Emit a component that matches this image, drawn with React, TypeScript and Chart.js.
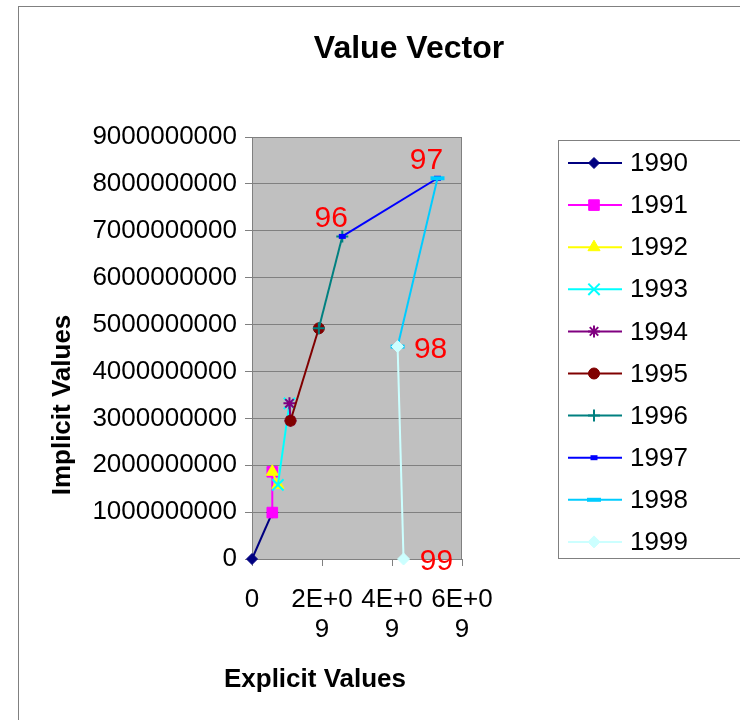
import React, { useEffect, useRef } from 'react';
import { Chart, registerables } from 'chart.js';
import { drawPoint } from 'chart.js/helpers';

Chart.register(...registerables);

// ---- data ----
const years = ['1990', '1991', '1992', '1993', '1994', '1995', '1996', '1997', '1998', '1999'];
// chained points: series k runs from point k to point k+1
const explicitValues = [0, 0.58e9, 0.58e9, 0.74e9, 1.07e9, 1.10e9, 1.91e9, 2.58e9, 5.30e9, 4.16e9, 4.33e9];
const implicitValues = [0, 0.99e9, 1.86e9, 1.58e9, 3.32e9, 2.95e9, 4.92e9, 6.88e9, 8.12e9, 4.53e9, 0];
const pointLabels = ['', '', '', '', '', '', '', '96', '97', '98', '99'];
const xTickValues = [0, 2e9, 4e9, 6e9];
const xTickLabels = ['0', '2E+09', '4E+09', '6E+09'];
const yTickLabels = ['0', '1000000000', '2000000000', '3000000000', '4000000000', '5000000000', '6000000000', '7000000000', '8000000000', '9000000000'];

// ---- styles ----
const FONT = '"Liberation Sans", Arial, Helvetica, sans-serif';
const seriesColors = ['#000080', '#FF00FF', '#FFFF00', '#00FFFF', '#800080', '#800000', '#008080', '#0000FF', '#00CCFF', '#CCFFFF'];
const markerStyles: any[] = [
  { pointStyle: 'rectRot', radius: 5.5, borderWidth: 1 },
  { pointStyle: 'rect', radius: 7.5, borderWidth: 1 },
  { pointStyle: 'triangle', radius: 7, borderWidth: 1 },
  { pointStyle: 'crossRot', radius: 8, borderWidth: 2 },
  { pointStyle: 'star', radius: 6, borderWidth: 2 },
  { pointStyle: 'circle', radius: 5.5, borderWidth: 1 },
  { pointStyle: 'cross', radius: 6, borderWidth: 2 },
  { pointStyle: 'line', radius: 3.5, borderWidth: 5 },
  { pointStyle: 'line', radius: 7, borderWidth: 4 },
  { pointStyle: 'rectRot', radius: 6, borderWidth: 1 },
];

const PLOT = { left: 252, right: 462, top: 137, bottom: 559 };

const decorPlugin = {
  id: 'decor',
  beforeDraw(chart: any) {
    const { ctx, chartArea } = chart;
    ctx.save();
    ctx.fillStyle = '#FFFFFF';
    ctx.fillRect(0, 0, chart.width, chart.height);
    ctx.strokeStyle = '#808080';
    ctx.lineWidth = 1;
    ctx.strokeRect(18.5, 6.5, 900, 900);
    ctx.fillStyle = '#C0C0C0';
    ctx.fillRect(chartArea.left, chartArea.top, chartArea.right - chartArea.left, chartArea.bottom - chartArea.top);
    ctx.restore();
  },
  beforeDatasetsDraw(chart: any) {
    const { ctx, chartArea } = chart;
    ctx.save();
    ctx.strokeStyle = '#808080';
    ctx.lineWidth = 1;
    ctx.strokeRect(chartArea.left + 0.5, chartArea.top + 0.5, chartArea.right - chartArea.left - 1, chartArea.bottom - chartArea.top);
    ctx.restore();
  },
  afterDatasetsDraw(chart: any) {
    const { ctx } = chart;
    const xs = chart.scales.x;
    const ys = chart.scales.y;
    ctx.save();
    ctx.fillStyle = '#FF0000';
    ctx.font = `30px ${FONT}`;
    ctx.textAlign = 'center';
    ctx.textBaseline = 'middle';
    pointLabels.forEach((lab, i) => {
      if (!lab) return;
      const px = xs.getPixelForValue(explicitValues[i]);
      const py = ys.getPixelForValue(implicitValues[i]);
      // label above-left for rising points, right of point for falling ones
      const above = i > 0 && implicitValues[i] >= implicitValues[i - 1];
      if (above) ctx.fillText(lab, px - 11, py - 18);
      else ctx.fillText(lab, px + 33, py + 3);
    });
    ctx.restore();
  },
  afterDraw(chart: any) {
    const { ctx } = chart;
    ctx.save();
    ctx.fillStyle = '#000000';
    ctx.textAlign = 'center';
    ctx.textBaseline = 'middle';
    ctx.font = `bold 32px ${FONT}`;
    ctx.fillText('Value Vector', 409, 49);
    ctx.font = `bold 26px ${FONT}`;
    ctx.fillText('Explicit Values', 315, 680);
    ctx.save();
    ctx.translate(63, 405);
    ctx.rotate(-Math.PI / 2);
    ctx.fillText('Implicit Values', 0, 0);
    ctx.restore();

    // legend
    ctx.strokeStyle = '#808080';
    ctx.lineWidth = 1;
    ctx.strokeRect(558.5, 140.5, 400, 418);
    years.forEach((yr, i) => {
      const cy = 163 + i * 42.1;
      ctx.strokeStyle = seriesColors[i];
      ctx.lineWidth = 2;
      ctx.beginPath();
      ctx.moveTo(568, cy);
      ctx.lineTo(622, cy);
      ctx.stroke();
      const m = markerStyles[i];
      ctx.fillStyle = seriesColors[i];
      ctx.strokeStyle = seriesColors[i];
      ctx.lineWidth = m.borderWidth;
      drawPoint(ctx, { pointStyle: m.pointStyle, radius: m.radius, rotation: 0, borderWidth: m.borderWidth }, 594, cy);
      ctx.fillStyle = '#000000';
      ctx.font = `26px ${FONT}`;
      ctx.textAlign = 'left';
      ctx.fillText(yr, 630, cy + 1);
    });
    ctx.restore();
  },
};

export default function App() {
  const ref = useRef<HTMLCanvasElement | null>(null);
  useEffect(() => {
    if (!ref.current) return;
    const datasets = years.map((yr, i) => ({
      label: yr,
      data: [
        { x: explicitValues[i], y: implicitValues[i] },
        { x: explicitValues[i + 1], y: implicitValues[i + 1] },
      ],
      showLine: true,
      clip: false,
      borderColor: seriesColors[i],
      backgroundColor: seriesColors[i],
      borderWidth: 2,
      pointStyle: markerStyles[i].pointStyle,
      pointRadius: markerStyles[i].radius,
      pointBorderWidth: markerStyles[i].borderWidth,
      pointBackgroundColor: seriesColors[i],
      pointBorderColor: seriesColors[i],
      order: years.length - i,
    }));
    const chart = new Chart(ref.current, {
      type: 'scatter',
      data: { datasets },
      options: {
        animation: false,
        responsive: false,
        devicePixelRatio: 1,
        layout: { padding: { top: PLOT.top, right: 740 - PLOT.right, bottom: 720 - PLOT.bottom - 100, left: 0 } },
        plugins: { legend: { display: false }, title: { display: false }, tooltip: { enabled: false } },
        scales: {
          x: {
            type: 'linear',
            min: 0,
            max: 6e9,
            afterFit: (s: any) => { s.height = 100; },
            afterBuildTicks: (s: any) => { s.ticks = xTickValues.map((v) => ({ value: v })); },
            ticks: {
              autoSkip: false,
              maxRotation: 0,
              minRotation: 0,
              padding: 19,
              color: '#000000',
              font: { family: FONT, size: 26, lineHeight: 1.15 },
              callback: (v: any, idx: number) => {
                const s = xTickLabels[idx];
                return s.length > 4 ? [s.slice(0, 4), s.slice(4)] : s;
              },
            },
            grid: { drawOnChartArea: false, color: '#808080', tickLength: 7, lineWidth: 1 },
            border: { color: '#808080' },
          },
          y: {
            type: 'linear',
            min: 0,
            max: 9e9,
            afterFit: (s: any) => { s.width = PLOT.left; },
            ticks: {
              stepSize: 1e9,
              autoSkip: false,
              padding: 8,
              color: '#000000',
              font: { family: FONT, size: 26 },
              callback: (v: any, idx: number) => yTickLabels[idx],
            },
            grid: { color: '#808080', tickLength: 7, lineWidth: 1 },
            border: { color: '#808080' },
          },
        },
      },
      plugins: [decorPlugin],
    } as any);
    return () => chart.destroy();
  }, []);
  return (
    <div style={{ position: 'absolute', left: 0, top: 0, width: 740, height: 720 }}>
      <canvas ref={ref} width={740} height={720} />
    </div>
  );
}
